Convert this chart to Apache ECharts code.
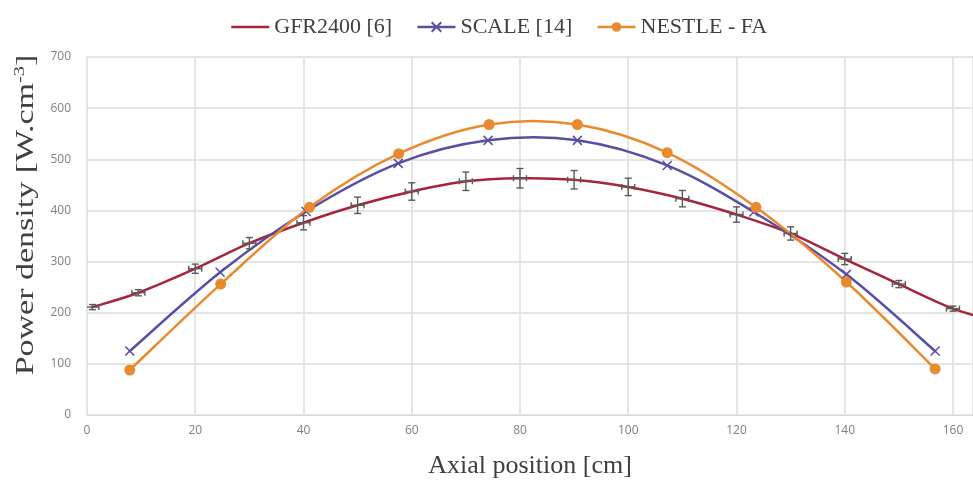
<!DOCTYPE html>
<html>
<head>
<meta charset="utf-8">
<script src="https://cdn.jsdelivr.net/npm/echarts@6/dist/echarts.min.js"></script>
<style>
  html, body { margin: 0; padding: 0; background: #fff; }
  #main { width: 973px; height: 488px; }
</style>
</head>
<body>
<div id="main"></div>
<script>
// GFR2400 [6] (with error bars)
var gfrX = [1, 9.5, 20, 30, 40, 50, 60, 70, 80, 90, 100, 110, 120, 130, 140, 150, 160, 170];
var gfrY = [211, 239, 286, 336, 376, 410, 437, 457, 463, 460, 446, 423, 392, 355, 305, 256, 208, 178];
var gfrErr = [5, 6, 9, 11, 14, 16, 17, 18, 19, 18, 17, 16, 15, 13, 11, 7, 5, 5];
var gfrXErr = 1.2;
// SCALE [14]
var scaleX = [7.9, 24.6, 40.5, 57.5, 74.1, 90.6, 107.2, 123.2, 140.3, 156.7];
var scaleY = [125, 279, 398, 492, 537, 537, 488, 397, 275, 125];
// NESTLE - FA
var nestleX = [7.9, 24.7, 41.1, 57.6, 74.3, 90.6, 107.2, 123.6, 140.3, 156.7];
var nestleY = [88, 256, 406, 511, 568, 568, 513, 406, 260, 90];

var xTicks = [0, 20, 40, 60, 80, 100, 120, 140, 160];
var yTicks = [0, 100, 200, 300, 400, 500, 600, 700];

var cRed = '#a8243a', cBlue = '#5a4ea2', cOrange = '#ea8a2e';

function zip(xs, ys) {
    return xs.map(function (x, i) { return [x, ys[i]]; });
}

// smooth curve like the spreadsheet one: cubic pieces through the points
function curveSeries(name, xs, ys, color) {
    return {
        name: name,
        type: 'custom',
        clip: true,
        data: zip(xs, ys),
        renderItem: function (params, api) {
            if (params.dataIndex !== 0) return null;
            var p = xs.map(function (x, i) { return api.coord([x, ys[i]]); });
            var kids = [];
            for (var i = 0; i < p.length - 1; i++) {
                var p0 = p[i > 0 ? i - 1 : i], p1 = p[i], p2 = p[i + 1], p3 = p[i + 2 < p.length ? i + 2 : i + 1];
                kids.push({
                    type: 'bezierCurve',
                    shape: {
                        x1: p1[0], y1: p1[1], x2: p2[0], y2: p2[1],
                        cpx1: p1[0] + (p2[0] - p0[0]) / 6, cpy1: p1[1] + (p2[1] - p0[1]) / 6,
                        cpx2: p2[0] - (p3[0] - p1[0]) / 6, cpy2: p2[1] - (p3[1] - p1[1]) / 6
                    },
                    style: { stroke: color, lineWidth: 2.5, fill: null, lineCap: 'round' }
                });
            }
            return { type: 'group', children: kids };
        },
        z: 3
    };
}

var chart = echarts.init(document.getElementById('main'));

var option = {
    animation: false,
    backgroundColor: '#fff',
    legend: {
        top: 11,
        left: 225,
        itemWidth: 38,
        itemHeight: 12,
        itemGap: 24,
        textStyle: { fontFamily: 'Liberation Serif', fontSize: 22, color: '#404040' },
        data: [
            { name: 'GFR2400 [6]', lineStyle: { color: cRed, width: 2.5, opacity: 1 },
              itemStyle: { color: 'rgba(0,0,0,0)', borderWidth: 0 } },
            { name: 'SCALE [14]', lineStyle: { color: cBlue, width: 2.5, opacity: 1 } },
            { name: 'NESTLE - FA', lineStyle: { color: cOrange, width: 2.5, opacity: 1 } }
        ]
    },
    graphic: [{
        type: 'text',
        x: 26,
        y: 215,
        rotation: Math.PI / 2,
        scaleX: 1.36,
        style: {
            text: '{a|Power density [W.cm}{s|-3}{a|]}',
            align: 'center',
            verticalAlign: 'middle',
            rich: {
                a: { fontFamily: 'Liberation Serif', fontSize: 25, fill: '#404040' },
                s: { fontFamily: 'Liberation Serif', fontSize: 15, fill: '#404040', padding: [0, 0, 12, 0] }
            }
        }
    }],
    grid: { left: 87, right: 0, top: 57, bottom: 73 },
    xAxis: {
        type: 'value',
        min: 0,
        max: 163.7,
        interval: 20,
        name: 'Axial position [cm]',
        nameLocation: 'middle',
        nameGap: 38,
        nameTextStyle: { fontFamily: 'Liberation Serif', fontSize: 26, color: '#404040' },
        axisLine: { show: true, lineStyle: { color: '#d9d9d9' } },
        axisTick: { show: false },
        axisLabel: {
            color: '#808080', fontFamily: 'Open Sans', fontSize: 12, margin: 10,
            showMaxLabel: false,
            formatter: function (v) { return xTicks.indexOf(v) >= 0 ? v : ''; }
        },
        splitLine: { show: true, lineStyle: { color: '#dcdcdc', width: 1.5 } }
    },
    yAxis: {
        type: 'value',
        min: 0,
        max: 700,
        interval: 100,
        axisLine: { show: false },
        axisTick: { show: false },
        axisLabel: {
            color: '#808080', fontFamily: 'Open Sans', fontSize: 12, margin: 16,
            formatter: function (v) { return yTicks.indexOf(v) >= 0 ? v : ''; }
        },
        splitLine: { show: true, lineStyle: { color: '#dcdcdc', width: 1.5 } }
    },
    series: [
        {
            name: 'GFR2400 [6]',
            type: 'line',
            data: zip(gfrX, gfrY),
            symbol: 'none',
            lineStyle: { color: cRed, width: 2.5, opacity: 0 },
            itemStyle: { color: cRed }
        },
        {
            name: 'SCALE [14]',
            type: 'line',
            data: zip(scaleX, scaleY),
            symbol: 'path://M0,0L10,10M10,0L0,10',
            symbolSize: 9,
            lineStyle: { color: cBlue, width: 2.5, opacity: 0 },
            itemStyle: { color: cBlue, borderColor: cBlue, borderWidth: 1.5 },
            z: 5
        },
        {
            name: 'NESTLE - FA',
            type: 'line',
            data: zip(nestleX, nestleY),
            symbol: 'circle',
            symbolSize: 11,
            lineStyle: { color: cOrange, width: 2.5, opacity: 0 },
            itemStyle: { color: cOrange },
            z: 6
        },
        curveSeries('GFR2400 [6]', gfrX, gfrY, cRed),
        curveSeries('SCALE [14]', scaleX, scaleY, cBlue),
        curveSeries('NESTLE - FA', nestleX, nestleY, cOrange),
        {
            name: 'GFR2400 [6]',
            type: 'custom',
            clip: true,
            data: gfrX.map(function (x, i) { return [x, gfrY[i], gfrErr[i]]; }),
            renderItem: function (params, api) {
                var x = api.value(0), y = api.value(1), e = api.value(2);
                var c = api.coord([x, y]);
                var top = api.coord([x, y + e]);
                var bot = api.coord([x, y - e]);
                var left = api.coord([x - gfrXErr, y]);
                var right = api.coord([x + gfrXErr, y]);
                var cap = 3.5;
                var st = { stroke: '#5a5a5a', lineWidth: 1.4, fill: null };
                return {
                    type: 'group',
                    children: [
                        { type: 'line', shape: { x1: top[0], y1: top[1], x2: bot[0], y2: bot[1] }, style: st },
                        { type: 'line', shape: { x1: top[0] - cap, y1: top[1], x2: top[0] + cap, y2: top[1] }, style: st },
                        { type: 'line', shape: { x1: bot[0] - cap, y1: bot[1], x2: bot[0] + cap, y2: bot[1] }, style: st },
                        { type: 'line', shape: { x1: left[0], y1: c[1], x2: right[0], y2: c[1] }, style: st },
                        { type: 'line', shape: { x1: left[0], y1: c[1] - 3, x2: left[0], y2: c[1] + 3 }, style: st },
                        { type: 'line', shape: { x1: right[0], y1: c[1] - 3, x2: right[0], y2: c[1] + 3 }, style: st }
                    ]
                };
            },
            z: 4
        }
    ]
};

chart.setOption(option);
</script>
</body>
</html>
